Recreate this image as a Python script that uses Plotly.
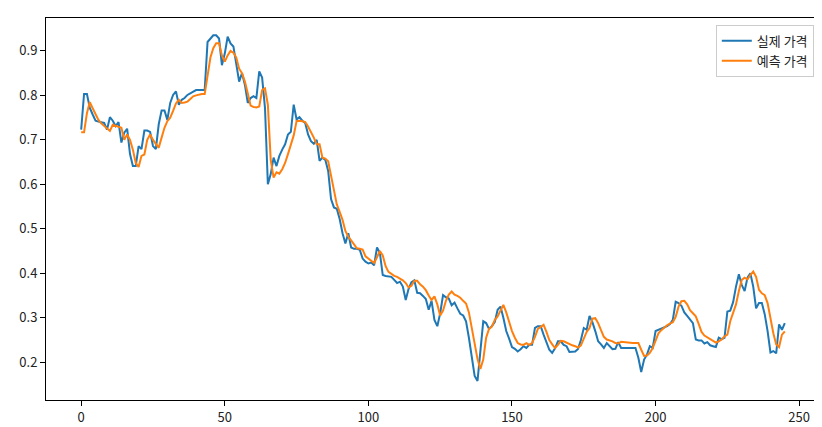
import plotly.graph_objects as go

actual = [
    0.723, 0.803, 0.803, 0.772, 0.757, 0.743, 0.741, 0.740, 0.738, 0.723,
    0.751, 0.743, 0.731, 0.740, 0.694, 0.716, 0.725, 0.668, 0.641, 0.641,
    0.686, 0.679, 0.721, 0.721, 0.718, 0.686, 0.679, 0.735, 0.766, 0.766,
    0.745, 0.783, 0.801, 0.809, 0.779, 0.790, 0.794, 0.801, 0.805, 0.808,
    0.812, 0.812, 0.812, 0.812, 0.920, 0.928, 0.935, 0.935, 0.928, 0.868,
    0.894, 0.932, 0.917, 0.910, 0.868, 0.831, 0.850, 0.824, 0.783, 0.794,
    0.798, 0.794, 0.854, 0.840, 0.772, 0.600, 0.623, 0.660, 0.641, 0.664,
    0.678, 0.690, 0.712, 0.718, 0.779, 0.746, 0.751, 0.743, 0.738, 0.712,
    0.697, 0.691, 0.700, 0.653, 0.660, 0.655, 0.630, 0.567, 0.548, 0.545,
    0.522, 0.490, 0.467, 0.490, 0.458, 0.455, 0.455, 0.453, 0.433, 0.426,
    0.422, 0.424, 0.418, 0.458, 0.446, 0.396, 0.394, 0.393, 0.392, 0.385,
    0.378, 0.381, 0.370, 0.340, 0.365, 0.380, 0.384, 0.356, 0.355, 0.349,
    0.342, 0.318, 0.338, 0.295, 0.281, 0.310, 0.351, 0.346, 0.343, 0.328,
    0.334, 0.321, 0.309, 0.305, 0.292, 0.255, 0.214, 0.169, 0.158, 0.230,
    0.292, 0.288, 0.275, 0.281, 0.290, 0.318, 0.325, 0.300, 0.270, 0.253,
    0.234, 0.230, 0.224, 0.229, 0.236, 0.232, 0.239, 0.239, 0.277, 0.281,
    0.281, 0.262, 0.245, 0.228, 0.221, 0.231, 0.247, 0.247, 0.239, 0.236,
    0.223, 0.223, 0.224, 0.230, 0.250, 0.277, 0.273, 0.304, 0.290, 0.270,
    0.247, 0.240, 0.232, 0.243, 0.236, 0.229, 0.230, 0.245, 0.232, 0.232,
    0.232, 0.232, 0.232, 0.232, 0.210, 0.178, 0.206, 0.217, 0.236, 0.232,
    0.270, 0.273, 0.275, 0.278, 0.281, 0.286, 0.295, 0.336, 0.333, 0.327,
    0.312, 0.304, 0.297, 0.288, 0.251, 0.249, 0.249, 0.242, 0.245, 0.238,
    0.236, 0.234, 0.255, 0.252, 0.255, 0.314, 0.316, 0.335, 0.370, 0.398,
    0.374, 0.360, 0.390, 0.400, 0.370, 0.321, 0.333, 0.333, 0.308, 0.270,
    0.222, 0.225, 0.220, 0.285, 0.273, 0.288,
]

predicted = [
    0.717, 0.717, 0.760, 0.785, 0.771, 0.757, 0.745, 0.737, 0.732, 0.726,
    0.720, 0.734, 0.732, 0.730, 0.727, 0.700, 0.712, 0.700, 0.678, 0.648,
    0.639, 0.664, 0.667, 0.700, 0.712, 0.700, 0.690, 0.682, 0.705, 0.727,
    0.742, 0.750, 0.765, 0.782, 0.790, 0.783, 0.784, 0.786, 0.792, 0.798,
    0.800, 0.802, 0.803, 0.803, 0.845, 0.885, 0.906, 0.917, 0.917, 0.890,
    0.876, 0.890, 0.900, 0.896, 0.885, 0.860, 0.850, 0.831, 0.805, 0.777,
    0.774, 0.773, 0.775, 0.812, 0.816, 0.779, 0.655, 0.615, 0.627, 0.624,
    0.634, 0.648, 0.668, 0.688, 0.710, 0.742, 0.743, 0.742, 0.740, 0.730,
    0.718, 0.705, 0.690, 0.690, 0.660, 0.658, 0.652, 0.620, 0.580, 0.555,
    0.538, 0.520, 0.495, 0.482, 0.474, 0.465, 0.456, 0.455, 0.453, 0.438,
    0.433, 0.430, 0.423, 0.436, 0.450, 0.440, 0.416, 0.403, 0.398, 0.394,
    0.392, 0.388, 0.384, 0.378, 0.368, 0.372, 0.383, 0.383, 0.375, 0.370,
    0.362, 0.350, 0.340, 0.348, 0.330, 0.305, 0.316, 0.338, 0.352, 0.359,
    0.352, 0.349, 0.345, 0.338, 0.332, 0.312, 0.278, 0.245, 0.207, 0.185,
    0.206, 0.255, 0.275, 0.280, 0.295, 0.303, 0.318, 0.329, 0.312, 0.290,
    0.270, 0.255, 0.243, 0.240, 0.239, 0.243, 0.239, 0.243, 0.257, 0.275,
    0.280, 0.284, 0.268, 0.250, 0.240, 0.232, 0.239, 0.248, 0.247, 0.244,
    0.240, 0.238, 0.236, 0.233, 0.238, 0.252, 0.268, 0.277, 0.298, 0.299,
    0.288, 0.272, 0.257, 0.251, 0.249, 0.247, 0.243, 0.242, 0.246, 0.245,
    0.245, 0.244, 0.243, 0.243, 0.243, 0.228, 0.214, 0.215, 0.221, 0.232,
    0.248, 0.265, 0.272, 0.278, 0.283, 0.287, 0.290, 0.302, 0.325, 0.337,
    0.338, 0.330, 0.317, 0.310, 0.303, 0.286, 0.268, 0.260, 0.256, 0.252,
    0.248, 0.244, 0.247, 0.251, 0.258, 0.262, 0.292, 0.310, 0.330, 0.360,
    0.385, 0.390, 0.386, 0.396, 0.404, 0.392, 0.363, 0.355, 0.351, 0.333,
    0.298, 0.265, 0.240, 0.234, 0.262, 0.269,
]

series_names = ["실제 가격", "예측 가격"]
x_ticks = [0, 50, 100, 150, 200, 250]
y_ticks = [0.2, 0.3, 0.4, 0.5, 0.6, 0.7, 0.8, 0.9]

idx = list(range(len(actual)))
FONT = "Noto Sans CJK KR, Malgun Gothic, DejaVu Sans, sans-serif"

fig = go.Figure()
fig.add_trace(go.Scatter(x=idx, y=actual, mode="lines", name=series_names[0],
                         line=dict(color="#1f77b4", width=2)))
fig.add_trace(go.Scatter(x=idx, y=predicted, mode="lines", name=series_names[1],
                         line=dict(color="#ff7f0e", width=2)))

axis_common = dict(showline=True, linecolor="black", linewidth=1, mirror=True,
                   ticks="outside", ticklen=5, tickwidth=1, tickcolor="black",
                   showgrid=False, zeroline=False,
                   tickfont=dict(family=FONT, size=13, color="#222"))

fig.update_layout(
    width=822, height=427,
    margin=dict(l=38, r=10, t=9, b=33),
    paper_bgcolor="white", plot_bgcolor="white",
    font=dict(family=FONT, size=13, color="#222"),
    showlegend=True,
    legend=dict(x=0.992, y=0.982, xanchor="right", yanchor="top",
                bgcolor="rgba(255,255,255,0.8)", bordercolor="#cccccc",
                borderwidth=1, font=dict(family=FONT, size=13, color="#222"),
                tracegroupgap=0),
    xaxis=dict(range=[-12.25, 257.25], tickvals=x_ticks, **axis_common),
    yaxis=dict(range=[0.115, 0.974], tickvals=y_ticks, tickformat=".1f", **axis_common),
)

fig.write_html("out.html")
